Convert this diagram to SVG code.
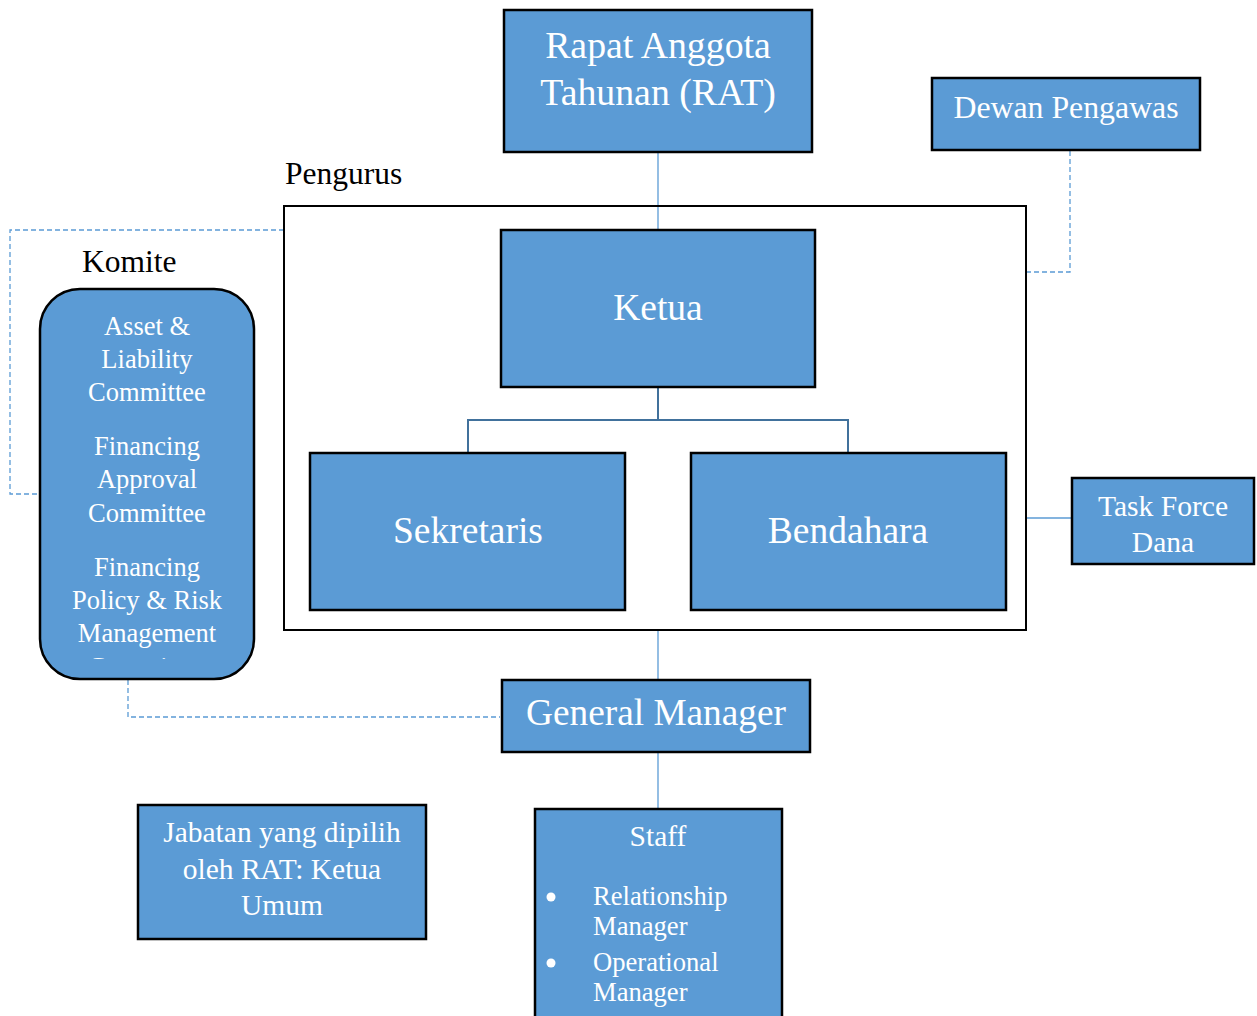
<svg xmlns="http://www.w3.org/2000/svg" width="1257" height="1016" viewBox="0 0 1257 1016">
<style>
.box{fill:#5B9BD5;stroke:#000;stroke-width:2.5}
.frame{fill:none;stroke:#000;stroke-width:2}
.t{font-family:"Liberation Serif","Times New Roman",serif;fill:#fff;text-anchor:middle}
.s{text-anchor:start}
.lbl{font-family:"Liberation Serif","Times New Roman",serif;fill:#000;font-size:31.5px}
.solid{fill:none;stroke:#5B9BD5;stroke-width:1.3}
.tree{fill:none;stroke:#41719C;stroke-width:2}
.dash{fill:none;stroke:#5B9BD5;stroke-width:1.3;stroke-dasharray:5,3}
</style>
<defs>
<clipPath id="kclip"><rect x="40" y="289" width="214" height="370"/></clipPath>
</defs>
<rect width="1257" height="1016" fill="#fff"/>
<g id="connectors">
<path class="solid" d="M658,152 V230"/>
<path class="tree" d="M658,387 V420 M468,453 V420 H848 V453"/>
<path class="dash" d="M1070,151 V272 H1026"/>
<path class="dash" d="M284,230 H10 V494 H40"/>
<path class="solid" d="M1026,518 H1072"/>
<path class="solid" d="M658,630 V680"/>
<path class="dash" d="M128,680 V717 H500"/>
<path class="solid" d="M658,752 V809"/>
</g>
<g id="pengurus">
<rect class="frame" x="284" y="206" width="742" height="424"/>
<text class="lbl" x="285" y="184">Pengurus</text>
</g>
<g id="rat">
<rect class="box" x="504" y="10" width="308" height="142"/>
<text class="t" x="658" y="58" font-size="37.8">Rapat Anggota</text>
<text class="t" x="658" y="105" font-size="37.8">Tahunan (RAT)</text>
</g>
<g id="dewan">
<rect class="box" x="932" y="78" width="268" height="72"/>
<text class="t" x="1066" y="118" font-size="31.8">Dewan Pengawas</text>
</g>
<g id="ketua">
<rect class="box" x="501" y="230" width="314" height="157"/>
<text class="t" x="658" y="320" font-size="37.5">Ketua</text>
</g>
<g id="sekretaris">
<rect class="box" x="310" y="453" width="315" height="157"/>
<text class="t" x="468" y="543" font-size="37.5">Sekretaris</text>
</g>
<g id="bendahara">
<rect class="box" x="691" y="453" width="315" height="157"/>
<text class="t" x="848" y="543" font-size="37.5">Bendahara</text>
</g>
<g id="taskforce">
<rect class="box" x="1072" y="478" width="182" height="86"/>
<text class="t" x="1163" y="516" font-size="29.6">Task Force</text>
<text class="t" x="1163" y="552" font-size="29.6">Dana</text>
</g>
<g id="komite">
<text class="lbl" x="82" y="272">Komite</text>
<rect class="box" x="40" y="289" width="214" height="390" rx="40" ry="40"/>
<g clip-path="url(#kclip)" font-size="26.5">
<text class="t" x="147" y="335">Asset &amp;</text>
<text class="t" x="147" y="368">Liability</text>
<text class="t" x="147" y="401">Committee</text>
<text class="t" x="147" y="455">Financing</text>
<text class="t" x="147" y="488">Approval</text>
<text class="t" x="147" y="522">Committee</text>
<text class="t" x="147" y="576">Financing</text>
<text class="t" x="147" y="609">Policy &amp; Risk</text>
<text class="t" x="147" y="642">Management</text>
<text class="t" x="147" y="676">Committee</text>
</g>
</g>
<g id="gm">
<rect class="box" x="502" y="680" width="308" height="72"/>
<text class="t" x="656" y="725" font-size="37.3">General Manager</text>
</g>
<g id="staff">
<rect class="box" x="535" y="809" width="247" height="212"/>
<text class="t" x="658" y="846" font-size="29.5">Staff</text>
<circle cx="551" cy="897" r="4.5" fill="#fff"/>
<circle cx="551" cy="963" r="4.5" fill="#fff"/>
<g font-size="26.6">
<text class="t s" x="593" y="905">Relationship</text>
<text class="t s" x="593" y="935">Manager</text>
<text class="t s" x="593" y="971">Operational</text>
<text class="t s" x="593" y="1001">Manager</text>
</g>
</g>
<g id="jabatan">
<rect class="box" x="138" y="805" width="288" height="134"/>
<text class="t" x="282" y="842" font-size="29.5">Jabatan yang dipilih</text>
<text class="t" x="282" y="879" font-size="29.5">oleh RAT: Ketua</text>
<text class="t" x="282" y="915" font-size="29.5">Umum</text>
</g>
</svg>
